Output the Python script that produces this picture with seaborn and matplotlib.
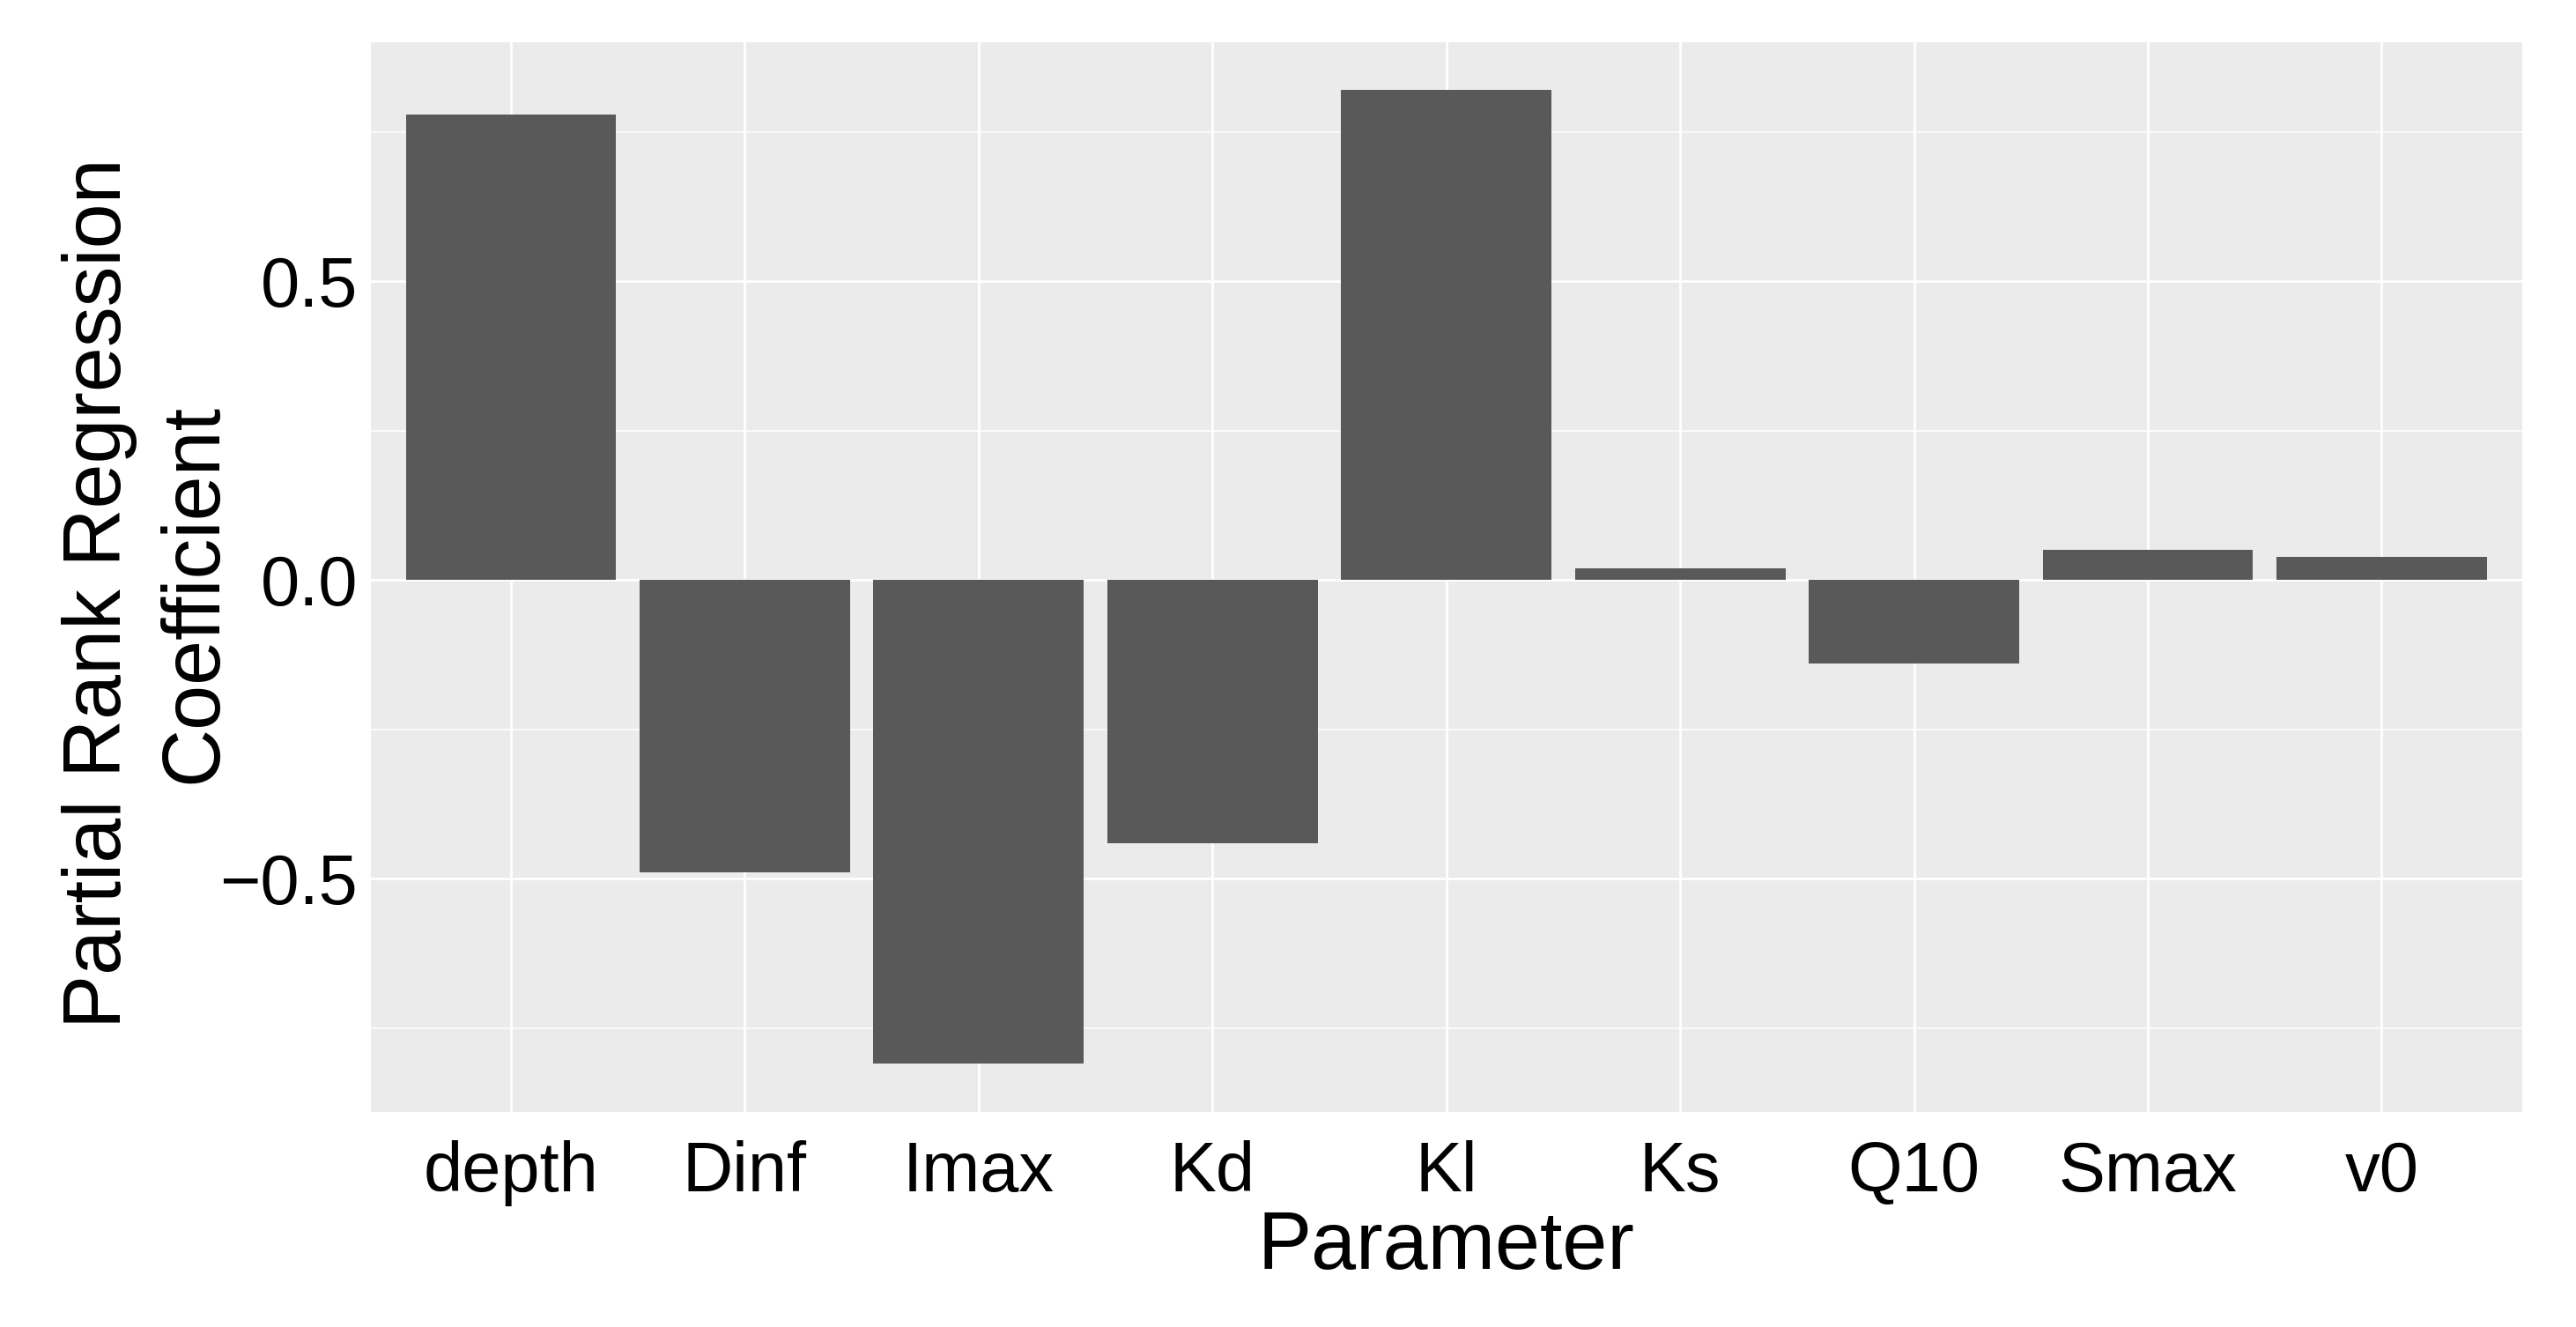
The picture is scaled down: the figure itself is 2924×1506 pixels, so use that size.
import matplotlib
matplotlib.use("Agg")
import matplotlib.pyplot as plt
from matplotlib.ticker import FixedLocator
import seaborn as sns
import pandas as pd

# ---- data ----
parameters = ["depth", "Dinf", "Imax", "Kd", "Kl", "Ks", "Q10", "Smax", "v0"]
prcc = [0.780, -0.490, -0.810, -0.440, 0.821, 0.019, -0.140, 0.050, 0.039]
y_major = [-0.5, 0.0, 0.5]
y_minor = [-0.75, -0.25, 0.25, 0.75]
x_title = "Parameter"
y_title = "Partial Rank Regression\nCoefficient"

df = pd.DataFrame({"Parameter": parameters, "PRCC": prcc})

sns.set_theme(style="darkgrid")
plt.rcParams["font.family"] = ["Liberation Sans", "DejaVu Sans"]

W, H, DPI = 2924, 1506, 200
fig = plt.figure(figsize=(W / DPI, H / DPI), dpi=DPI)
ax = fig.add_axes([420.7 / W, 1 - 1262 / H, (2862.7 - 420.7) / W, (1262 - 48) / H])

sns.barplot(data=df, x="Parameter", y="PRCC", order=parameters, color="#595959",
            saturation=1, width=0.9, ax=ax, edgecolor="none", linewidth=0)

ax.set_facecolor("#EBEBEB")
for s in ax.spines.values():
    s.set_visible(False)

ax.set_xlim(-0.6, len(parameters) - 1 + 0.6)
ax.set_ylim(-0.8908, 0.9006)
ax.yaxis.set_major_locator(FixedLocator(y_major))
ax.yaxis.set_minor_locator(FixedLocator(y_minor))
ax.set_axisbelow(True)
ax.grid(which="major", color="white", linewidth=1.0)
ax.grid(which="minor", axis="y", color="white", linewidth=0.55)
ax.grid(which="minor", axis="x", visible=False)

ax.tick_params(axis="both", which="major", length=2.9, width=0.8, color="#333333",
               labelsize=28.6, labelcolor="black")
ax.tick_params(axis="x", which="major", pad=8.7)
ax.tick_params(axis="y", which="major", pad=2.3)
ax.tick_params(axis="both", which="minor", length=0)

ax.set_xlabel(x_title, fontsize=33, color="black", va="top")
ax.set_ylabel(y_title, fontsize=33, color="black", linespacing=1.33, va="top")
ax.xaxis.set_label_coords(0.5, -0.0914)
ax.yaxis.set_label_coords(-0.1436, 0.485)

fig.savefig("out.png", dpi=DPI, facecolor="white")
